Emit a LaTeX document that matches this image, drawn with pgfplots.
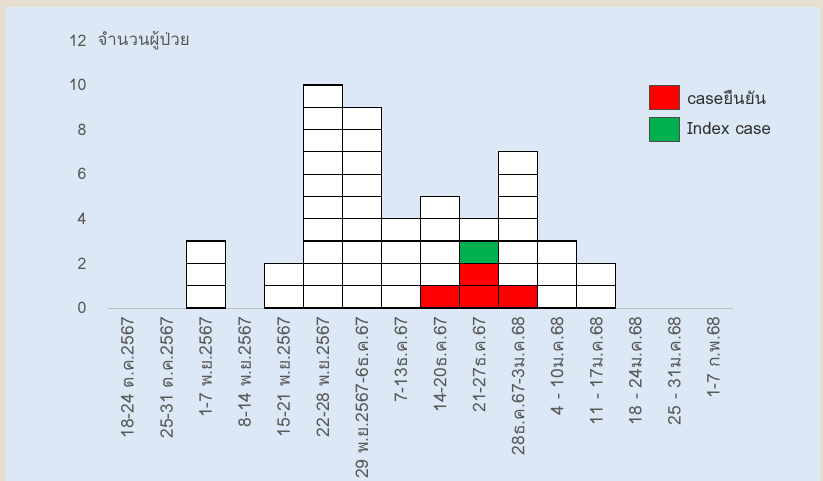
\documentclass[border=0pt]{standalone}
\usepackage{fontspec}
\setmainfont[Script=Thai]{Loma}
\usepackage{pgfplots}
\usepackage{pgfplotstable}
\pgfplotsset{compat=1.18}
\definecolor{panel}{HTML}{DCE8F5}
\definecolor{frame}{HTML}{E6DECF}
\definecolor{txt}{HTML}{595959}
\definecolor{cred}{HTML}{FF0000}
\definecolor{cgreen}{HTML}{00B050}
\pgfplotstableread{
x total red idx
0 0 0 0
1 0 0 0
2 3 0 0
3 0 0 0
4 2 0 0
5 10 0 0
6 9 0 0
7 4 0 0
8 5 1 0
9 4 2 1
10 7 1 0
11 3 0 0
12 2 0 0
13 0 0 0
14 0 0 0
15 0 0 0
}\datatable
\begin{document}
\begin{tikzpicture}[x=1bp,y=1bp]
\fill[frame] (0,0) rectangle (823,481);
\fill[panel] (6,0) rectangle (820,474);
\path[use as bounding box] (0,0) rectangle (823,481);
\begin{axis}[
  at={(108bp,173bp)}, anchor=south west,
  scale only axis, width=625bp, height=267.6bp,
  xmin=-0.5, xmax=15.5, ymin=0, ymax=12,
  axis y line*=left, axis x line*=bottom,
  y axis line style={draw=none},
  x axis line style={draw=black!25, line width=0.8pt, -},
  ytick={0,2,...,12},
  xtick={0,...,15},
  xticklabels={18-24 ต.ค.2567,25-31 ต.ค.2567,1-7 พ.ย.2567,8-14 พ.ย.2567,15-21 พ.ย.2567,22-28 พ.ย.2567,29 พ.ย.2567-6ธ.ค.67,7-13ธ.ค.67,14-20ธ.ค.67,21-27ธ.ค.67,28ธ.ค.67-3ม.ค.68,4 - 10ม.ค.68,11 - 17ม.ค.68,18 - 24ม.ค.68,25 - 31ม.ค.68,1-7 ก.พ.68},
  major tick length=0pt,
  x tick label style={rotate=90, anchor=east, font=\fontsize{17.5}{18}\selectfont, text=txt},
  y tick label style={font=\fontsize{16}{17}\selectfont, text=txt, anchor=east},
  /pgf/number format/assume math mode=true,
  xticklabel shift=5bp, yticklabel shift=18bp,
  ybar, bar width=1, bar shift=0pt,
  clip=false,
  legend style={at={(rel axis cs:0.86,0.84)}, anchor=north west, draw=none, fill=none,
    font=\fontsize{17}{18}\selectfont, text=black!80, row sep=7bp, column sep=6bp},
  legend cell align=left,
  legend image code/.code={\draw[#1, line width=0.8pt] (0bp,-12bp) rectangle (30bp,12bp);},
]
\pgfplotsinvokeforeach{10,9,...,1}{
  \addplot[forget plot, fill=white, draw=black, line width=1.2pt]
    table[x=x, y expr={\thisrow{total}>=#1 ? #1 : nan}] {\datatable};
}
\addplot[forget plot, fill=cgreen, draw=black, line width=1.2pt]
  table[x=x, y expr={\thisrow{idx}>0 ? \thisrow{red}+\thisrow{idx} : nan}] {\datatable};
\pgfplotsinvokeforeach{2,1}{
  \addplot[forget plot, fill=cred, draw=black, line width=1.2pt]
    table[x=x, y expr={\thisrow{red}>=#1 ? #1 : nan}] {\datatable};
}
\addlegendimage{fill=cred, draw=black!70}
\addlegendentry{caseยืนยัน}
\addlegendimage{fill=cgreen, draw=black!70}
\addlegendentry{Index case}
\node[anchor=west, font=\fontsize{17}{18}\selectfont, text=txt] at (axis cs:-0.5,12) [xshift=-14bp] {จำนวนผู้ป่วย};
\end{axis}
\end{tikzpicture}
\end{document}
